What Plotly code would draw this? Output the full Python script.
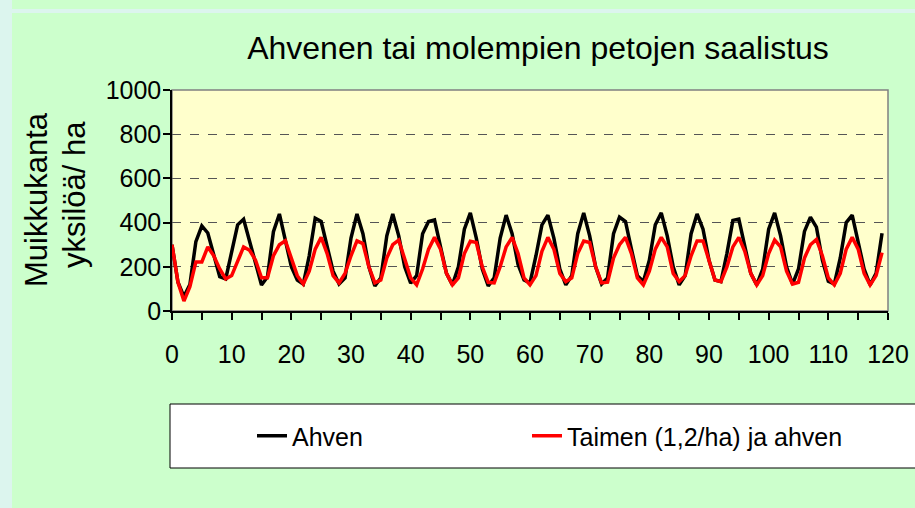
import plotly.graph_objects as go

# ---- data ----
time_steps = list(range(120))

ahven = [300, 130, 65, 120, 314, 385, 353, 250, 155, 145,
         270, 390, 415, 320, 216, 118, 155, 359, 439, 321,
         200, 140, 122, 250, 420, 405, 300, 180, 122, 150,
         330, 439, 350, 200, 113, 150, 340, 439, 340, 200,
         126, 160, 350, 405, 412, 290, 170, 118, 200, 370,
         444, 330, 190, 113, 150, 330, 434, 350, 210, 140,
         127, 250, 390, 434, 330, 190, 118, 160, 350, 444,
         340, 200, 122, 150, 350, 425, 405, 280, 160, 133,
         230, 390, 444, 340, 200, 118, 160, 350, 439, 370,
         230, 140, 133, 260, 410, 416, 290, 170, 118, 190,
         370, 444, 340, 200, 122, 190, 360, 425, 380, 230,
         135, 122, 240, 400, 434, 320, 190, 118, 170, 352]

taimen_ahven = [300, 130, 45, 110, 222, 222, 290, 250, 190, 145,
                160, 230, 290, 275, 230, 150, 150, 250, 300, 318,
                240, 160, 122, 180, 280, 333, 260, 160, 127, 170,
                250, 317, 305, 200, 127, 140, 240, 300, 321, 240,
                150, 118, 190, 280, 333, 280, 170, 118, 150, 260,
                316, 310, 200, 130, 127, 200, 290, 333, 260, 150,
                118, 160, 270, 333, 280, 170, 133, 150, 260, 317,
                310, 200, 127, 130, 240, 300, 333, 260, 150, 118,
                180, 280, 333, 290, 170, 133, 160, 250, 317, 317,
                230, 140, 133, 200, 290, 333, 270, 170, 118, 160,
                260, 321, 290, 180, 122, 130, 240, 300, 324, 250,
                150, 118, 170, 280, 333, 280, 170, 118, 160, 264]

series_names = ["Ahven", "Taimen (1,2/ha) ja ahven"]
x_tick_vals = list(range(0, 121, 5))
x_tick_text = [str(v) if v % 10 == 0 else "" for v in x_tick_vals]
y_tick_vals = [0, 200, 400, 600, 800, 1000]

title_text = "Ahvenen tai molempien petojen saalistus"
ytitle_line1 = "Muikkukanta"
ytitle_line2 = "yksilöä/ ha"

# ---- layout geometry (pixels) ----
W, H = 915, 508
L, R, T, B = 172, 27, 90, 197
PW, PH = W - L - R, H - T - B

def px_x(p):
    return (p - L) / PW

def px_y(p):
    return (H - B - p) / PH

FONT = "Liberation Sans, Arial, sans-serif"

fig = go.Figure()
fig.add_trace(go.Scatter(x=time_steps, y=ahven, mode="lines", name=series_names[0],
                         line=dict(color="#000000", width=3.5), legend="legend"))
fig.add_trace(go.Scatter(x=time_steps, y=taimen_ahven, mode="lines", name=series_names[1],
                         line=dict(color="#ff0000", width=3.5), legend="legend2"))

shapes = [
    # cyan outer strips
    dict(type="rect", xref="paper", yref="paper", x0=px_x(0), x1=px_x(12), y0=px_y(H), y1=px_y(0),
         fillcolor="#dcf5ee", line=dict(width=0), layer="below"),
    dict(type="rect", xref="paper", yref="paper", x0=px_x(0), x1=px_x(W), y0=px_y(13), y1=px_y(9),
         fillcolor="#dcf5ee", line=dict(width=0), layer="below"),
    # plot area border (gray)
    dict(type="rect", xref="paper", yref="paper", x0=0, x1=1, y0=0, y1=1,
         fillcolor="rgba(0,0,0,0)", line=dict(color="#808080", width=1.5), layer="below"),
    # legend box
    dict(type="rect", xref="paper", yref="paper", x0=px_x(170), x1=px_x(925), y0=px_y(468), y1=px_y(404),
         fillcolor="#ffffff", line=dict(color="#000000", width=1), layer="below"),
]

legend_common = dict(orientation="h", xanchor="left", yanchor="middle",
                     bgcolor="rgba(0,0,0,0)", borderwidth=0,
                     font=dict(size=25, family=FONT, color="#000000"), itemwidth=30)

fig.update_layout(
    width=W, height=H, autosize=False,
    margin=dict(l=L, r=R, t=T, b=B, autoexpand=False),
    paper_bgcolor="#ccffcc",
    plot_bgcolor="#ffffcc",
    font=dict(family=FONT, color="#000000", size=25),
    title=dict(text=title_text, font=dict(size=32, family=FONT, color="#000000"),
               x=px_x(538), xref="paper", xanchor="center",
               y=1 - 48 / H, yref="container", yanchor="middle"),
    showlegend=True,
    legend=dict(x=px_x(252), y=px_y(436), **legend_common),
    legend2=dict(x=px_x(527), y=px_y(436), **legend_common),
    shapes=shapes,
    annotations=[
        dict(text=ytitle_line1, xref="paper", yref="paper", x=px_x(36), y=px_y(200),
             textangle=-90, showarrow=False, font=dict(size=31, family=FONT),
             xanchor="center", yanchor="middle"),
        dict(text=ytitle_line2, xref="paper", yref="paper", x=px_x(74), y=px_y(195),
             textangle=-90, showarrow=False, font=dict(size=31, family=FONT),
             xanchor="center", yanchor="middle"),
    ],
)

fig.update_xaxes(range=[0, 120], tickmode="array", tickvals=x_tick_vals, ticktext=x_tick_text,
                 ticks="outside", ticklen=7, tickcolor="#000000", tickwidth=1.5,
                 showline=True, linecolor="#000000", linewidth=1.5, showgrid=False, zeroline=False,
                 automargin=False,
                 ticklabelstandoff=13, tickfont=dict(size=25, family=FONT))
fig.update_yaxes(range=[0, 1000], tickmode="array", tickvals=y_tick_vals,
                 ticks="outside", ticklen=7, tickcolor="#000000", tickwidth=1.5,
                 showline=True, linecolor="#000000", linewidth=1.5, automargin=False,
                 showgrid=True, gridcolor="#555555", gridwidth=1, griddash="dash", zeroline=False,
                 ticklabelstandoff=-3, tickfont=dict(size=25, family=FONT))

fig.write_html("out.html", config={"displayModeBar": False},
               post_script="document.body.style.margin='0';document.body.style.overflow='hidden';")
